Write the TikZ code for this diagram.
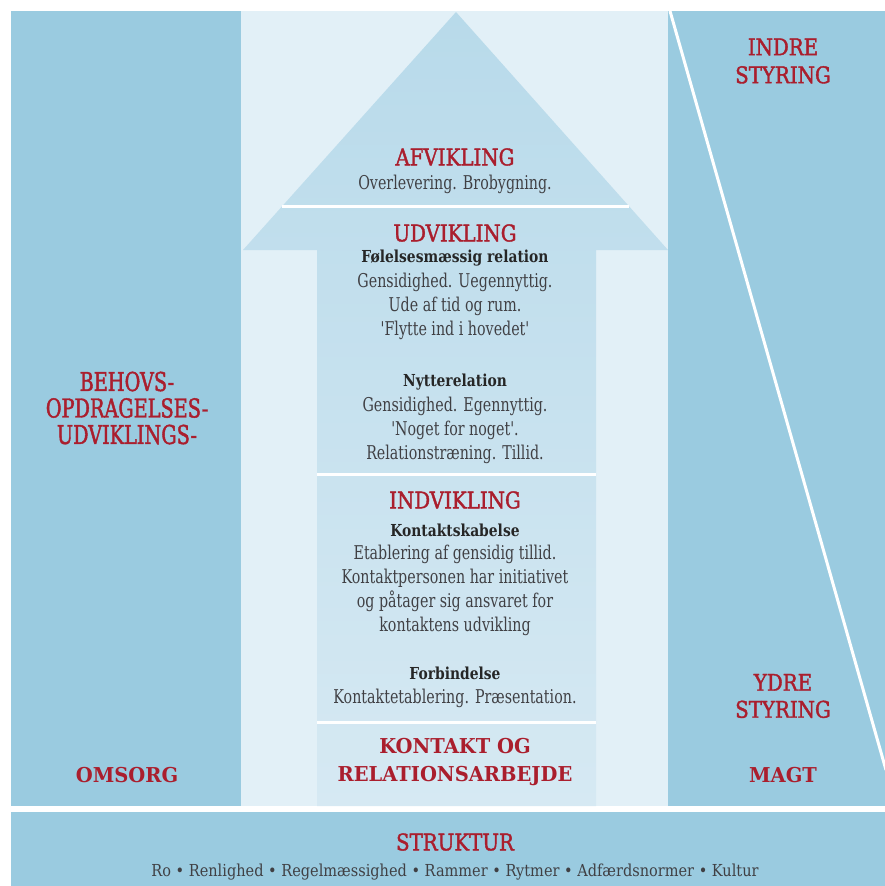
\documentclass[tikz,border=0pt]{standalone}
\usepackage{fontspec}
\setmainfont{DejaVu Serif}
\newfontfamily\headf[FakeStretch=0.86,FakeBold=1.6]{DejaVu Serif}
\newfontfamily\leftf[FakeStretch=0.74,FakeBold=1.6]{DejaVu Serif}
\newfontfamily\bheadf[FakeStretch=0.95]{DejaVu Serif}
\newfontfamily\subf[FakeStretch=0.84]{DejaVu Serif}
\newfontfamily\bodyf[FakeStretch=0.75]{DejaVu Serif}
\newfontfamily\footf[FakeStretch=0.88]{DejaVu Serif}
\definecolor{colA}{RGB}{154,203,224}
\definecolor{colM}{RGB}{226,240,247}
\definecolor{arrTop}{RGB}{184,218,234}
\definecolor{arrBot}{RGB}{214,233,243}
\definecolor{hred}{RGB}{170,30,45}
\definecolor{txt}{RGB}{64,64,68}
\tikzset{
  head/.style={text=hred, font=\headf\fontsize{23}{28}\selectfont, align=center, inner sep=0pt},
  lhead/.style={text=hred, font=\leftf\fontsize{26}{26.5}\selectfont, align=center, inner sep=0pt},
  bhead/.style={text=hred, font=\bheadf\bfseries\fontsize{20.5}{28}\selectfont, align=center, inner sep=0pt},
  sub/.style={text=black!85, font=\subf\bfseries\fontsize{16.5}{24}\selectfont, align=center, inner sep=0pt},
  body/.style={text=txt, font=\bodyf\fontsize{19}{24}\selectfont, align=center, inner sep=0pt},
  foot/.style={text=txt, font=\footf\fontsize{16.5}{24}\selectfont, align=center, inner sep=0pt},
  sep/.style={white, line width=3pt},
}
\begin{document}
\begin{tikzpicture}[x=1pt,y=-1pt]
\useasboundingbox (0,0) rectangle (885,886);
% panels
\fill[colA] (11,11) rectangle (241,806);
\fill[colM] (241,11) rectangle (668,806);
\fill[colA] (668,11) rectangle (885,806);
\fill[colA] (11,812) rectangle (885,886);
\draw[white, line width=3pt] (670,11) -- (886,770);
% arrow
\shade[top color=arrTop, bottom color=arrBot]
  (456,12) -- (668,250) -- (596,250) -- (596,806) -- (317,806) -- (317,250) -- (243,250) -- cycle;
\draw[sep] (282.4,206) -- (628.8,206);
\draw[sep] (317,474) -- (596,474);
\draw[sep] (317,722) -- (596,722);
% right column
\node[head] (indre) at (783,61) {INDRE\\STYRING};
\node[head] (ydre) at (783,696) {YDRE\\[-1pt]STYRING};
\node[bhead] (magt) at (783,775) {MAGT};
% left column
\node[lhead] (behov) at (127,408) {BEHOVS-\\OPDRAGELSES-\\UDVIKLINGS-};
\node[bhead] (omsorg) at (127,775) {OMSORG};
% arrow texts
\node[head] (afv) at (455,157) {AFVIKLING};
\node[body] (afvt) at (455,184) {Overlevering. Brobygning.};
\node[head] (udv) at (455,233) {UDVIKLING};
\node[sub] (fol) at (455,258) {Følelsesmæssig relation};
\node[body] (folt) at (455,306) {Gensidighed. Uegennyttig.\\Ude af tid og rum.\\'Flytte ind i hovedet'};
\node[sub] (nyt) at (455,382) {Nytterelation};
\node[body] (nytt) at (455,430) {Gensidighed. Egennyttig.\\'Noget for noget'.\\Relationstræning. Tillid.};
\node[head] (indv) at (455,500) {INDVIKLING};
\node[sub] (kont) at (455,530) {Kontaktskabelse};
\node[body] (kontt) at (455,590) {Etablering af gensidig tillid.\\Kontaktpersonen har initiativet\\og påtager sig ansvaret for\\kontaktens udvikling};
\node[sub] (forb) at (455,673) {Forbindelse};
\node[body] (forbt) at (455,698) {Kontaktetablering. Præsentation.};
\node[bhead] (kor) at (455,762) {KONTAKT OG\\RELATIONSARBEJDE};
% bottom
\node[head] (strukt) at (455,842) {STRUKTUR};
\node[foot] (struktt) at (455,872) {Ro • Renlighed • Regelmæssighed • Rammer • Rytmer • Adfærdsnormer • Kultur};
\end{tikzpicture}
\end{document}
